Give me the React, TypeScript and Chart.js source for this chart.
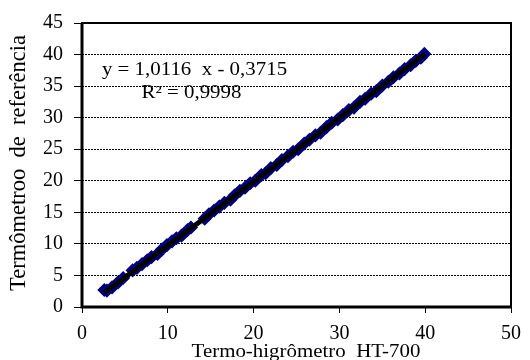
import React, { useEffect, useRef } from "react";
import { Chart, registerables } from "chart.js";

Chart.register(...registerables);

const xValues = [2.6, 2.9, 3.5, 4.2, 4.8, 5.9, 6.4, 7.0, 7.6, 8.1, 8.8, 9.3, 9.9, 10.5, 11.0, 11.6, 12.3, 12.7, 14.3, 14.8, 15.4, 16.0, 16.6, 17.3, 17.8, 18.4, 19.0, 19.6, 20.2, 20.9, 21.4, 22.0, 22.7, 23.3, 24.0, 24.6, 25.2, 25.9, 26.5, 27.2, 27.8, 28.5, 29.1, 29.8, 30.4, 31.1, 31.7, 32.4, 33.0, 33.7, 34.3, 35.0, 35.7, 36.3, 37.0, 37.6, 38.3, 38.9, 39.5, 39.9];
const yValues = [2.7, 2.6, 3.1, 3.9, 4.6, 5.8, 6.2, 6.8, 7.4, 7.9, 8.4, 9.1, 9.8, 10.4, 10.9, 11.3, 12.2, 12.6, 14.0, 14.7, 15.3, 15.9, 16.5, 17.0, 17.7, 18.4, 18.9, 19.6, 20.0, 20.9, 21.2, 22.0, 22.5, 23.3, 23.9, 24.6, 25.0, 25.9, 26.5, 27.2, 27.6, 28.5, 29.2, 29.7, 30.4, 31.2, 31.6, 32.5, 33.0, 33.8, 34.2, 35.1, 35.7, 36.4, 37.0, 37.7, 38.3, 39.0, 39.5, 40.1];

const trendX = [2.6, 40];
const trendY = [2.26, 40.09];

const xTicks = [0, 10, 20, 30, 40, 50];
const yTicks = [0, 5, 10, 15, 20, 25, 30, 35, 40, 45];

const equationText = "y = 1,0116  x - 0,3715";
const r2Text = "R² = 0,9998";
const xTitle = "Termo-higrômetro  HT-700";
const yTitle = "Termômetroo  de  referência";

const FONT = '"Liberation Serif", "Times New Roman", serif';

function stretchedText(ctx: any, text: string, cx: number, baseline: number, size: number, sx: number) {
  ctx.save();
  ctx.font = `${size}px ${FONT}`;
  ctx.textAlign = "center";
  ctx.textBaseline = "alphabetic";
  ctx.translate(cx, baseline);
  ctx.scale(sx, 1);
  ctx.fillText(text, 0, 0);
  ctx.restore();
}

const framePlugin = {
  id: "frameAndText",
  afterDraw(chart: any) {
    const { ctx, chartArea: a } = chart;
    ctx.save();
    ctx.strokeStyle = "#000";
    ctx.lineWidth = 2;
    ctx.strokeRect(a.left, a.top, a.right - a.left, a.bottom - a.top);
    ctx.lineWidth = 3;
    ctx.beginPath();
    ctx.moveTo(a.left, a.top);
    ctx.lineTo(a.left, a.bottom);
    ctx.lineTo(a.right, a.bottom);
    ctx.stroke();

    ctx.fillStyle = "#000";
    stretchedText(ctx, equationText, 194.5, 74.5, 18.5, 1.13);
    stretchedText(ctx, r2Text, 191.5, 98, 18.5, 1.13);
    stretchedText(ctx, xTitle, 306, 357, 19, 1.1);

    ctx.font = `22.5px ${FONT}`;
    ctx.textAlign = "center";
    ctx.textBaseline = "alphabetic";
    ctx.translate(25, 163);
    ctx.rotate(-Math.PI / 2);
    ctx.fillText(yTitle, 0, 0);
    ctx.restore();
  },
};

export default function App() {
  const ref = useRef<HTMLCanvasElement | null>(null);

  useEffect(() => {
    if (!ref.current) return;
    const scatterData = xValues.map((x, i) => ({ x, y: yValues[i] }));
    const trendData = trendX.map((x, i) => ({ x, y: trendY[i] }));
    const chart = new Chart(ref.current, {
      type: "scatter",
      data: {
        datasets: [
          {
            type: "line",
            label: "trend",
            data: trendData,
            borderColor: "#000",
            borderWidth: 5,
            pointRadius: 0,
            fill: false,
          },
          {
            label: "data",
            data: scatterData,
            pointStyle: "rectRot",
            pointRadius: 6,
            backgroundColor: "#000080",
            borderColor: "#000080",
            borderWidth: 1.5,
          },
        ],
      } as any,
      options: {
        responsive: false,
        animation: false,
        layout: { padding: { top: 19, right: 13, left: 0, bottom: 0 } },
        plugins: {
          legend: { display: false },
          tooltip: { enabled: false },
        },
        scales: {
          x: {
            type: "linear",
            min: 0,
            max: 50,
            afterBuildTicks: (s: any) => {
              s.ticks = xTicks.map((v) => ({ value: v }));
            },
            afterFit: (s: any) => {
              s.height = 53;
            },
            grid: {
              drawOnChartArea: false,
              drawTicks: true,
              tickLength: 6,
              tickColor: "#000",
              tickWidth: 1,
            },
            border: { display: false },
            ticks: {
              color: "#000",
              padding: 9,
              maxRotation: 0,
              font: { family: FONT, size: 20 },
            },
          },
          y: {
            type: "linear",
            min: 0,
            max: 45,
            afterBuildTicks: (s: any) => {
              s.ticks = yTicks.map((v) => ({ value: v }));
            },
            afterFit: (s: any) => {
              s.width = 82;
            },
            grid: {
              color: "#000",
              lineWidth: 1,
              drawTicks: true,
              tickLength: 8,
              tickColor: "#000",
              tickWidth: 1,
              tickBorderDash: [],
            },
            border: { display: false, dash: [2, 1] },
            ticks: {
              color: "#000",
              padding: 11,
              font: { family: FONT, size: 20 },
            },
          },
        },
      } as any,
      plugins: [framePlugin],
    });
    return () => chart.destroy();
  }, []);

  return (
    <div style={{ position: "absolute", left: 0, top: 0, width: 530, height: 360, background: "#fff" }}>
      <canvas ref={ref} width={530} height={360} style={{ width: 530, height: 360 }} />
    </div>
  );
}
